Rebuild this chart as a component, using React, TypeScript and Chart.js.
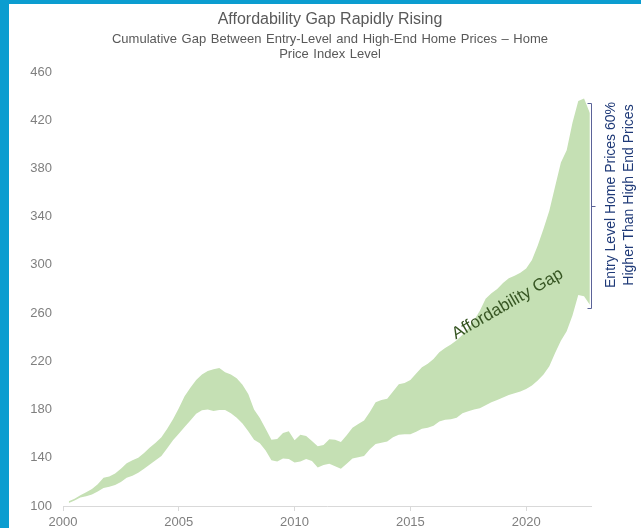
import React, { useEffect, useRef } from "react";
import { Chart, registerables } from "chart.js";

Chart.register(...registerables);

const quarters = [
  2000.25, 2000.5, 2000.75,
  2001, 2001.25, 2001.5, 2001.75,
  2002, 2002.25, 2002.5, 2002.75,
  2003, 2003.25, 2003.5, 2003.75,
  2004, 2004.25, 2004.5, 2004.75,
  2005, 2005.25, 2005.5, 2005.75,
  2006, 2006.25, 2006.5, 2006.75,
  2007, 2007.25, 2007.5, 2007.75,
  2008, 2008.25, 2008.5, 2008.75,
  2009, 2009.25, 2009.5, 2009.75,
  2010, 2010.25, 2010.5, 2010.75,
  2011, 2011.25, 2011.5, 2011.75,
  2012, 2012.25, 2012.5, 2012.75,
  2013, 2013.25, 2013.5, 2013.75,
  2014, 2014.25, 2014.5, 2014.75,
  2015, 2015.25, 2015.5, 2015.75,
  2016, 2016.25, 2016.5, 2016.75,
  2017, 2017.25, 2017.5, 2017.75,
  2018, 2018.25, 2018.5, 2018.75,
  2019, 2019.25, 2019.5, 2019.75,
  2020, 2020.25, 2020.5, 2020.75,
  2021, 2021.25, 2021.5, 2021.75,
  2022, 2022.25, 2022.5, 2022.75,
];

// Entry-level home price index (upper edge of the gap)
const entryLevel = [
  104, 106, 109,
  111.5, 114, 118, 123.5,
  124.5, 127, 131, 135.5,
  138, 140, 144, 148.5,
  152.5, 157, 164, 172,
  181, 191, 198, 204.5,
  209, 212, 213.5, 214.5,
  211, 209, 206, 200.5,
  193, 180, 173, 164,
  155, 155.5, 160.5, 162,
  154.5, 159, 158, 154,
  149.5, 150.7, 155.3, 155,
  153, 158.7, 165, 168,
  171, 178, 186, 188,
  189, 195, 201, 202,
  204.5, 210, 215, 218,
  222, 227.5, 231, 234,
  237.5, 242, 247, 254,
  262, 272, 276.5, 280,
  285, 289, 291, 293.5,
  297, 304, 316, 330,
  345, 365, 385, 395,
  418, 436, 438, 426,
];

// High-end home price index (lower edge of the gap)
const highEnd = [
  102.5, 104.5, 107,
  108, 109.5, 112, 115,
  116, 117.5, 120, 123.5,
  125, 127.5, 131, 134.5,
  138, 141.5, 148, 154.5,
  160, 165.5, 171, 176.5,
  179.5, 180, 178.8, 179.6,
  179.6, 177, 173.3, 168.5,
  162, 155, 152, 146,
  138, 137, 139.3, 139,
  136, 137, 139, 137.3,
  132, 134, 135, 133,
  131, 135, 139.5, 140.5,
  141.5, 147, 151.5, 152.5,
  153.5, 157, 159, 159.5,
  159.5, 161.5, 164, 165,
  166.5, 170, 171.5, 172,
  173.3, 177, 178.5, 180,
  181, 183.5, 186, 188,
  190, 192, 193.5, 195,
  197, 200, 204, 209,
  216, 227, 237, 245,
  258, 275, 274, 267,
];

const xTicks = [2000, 2005, 2010, 2015, 2020];
const yTicks = [100, 140, 180, 220, 260, 300, 340, 380, 420, 460];

const titleText = "Affordability Gap Rapidly Rising";
const subtitleLines = [
  "Cumulative Gap Between Entry-Level and High-End Home Prices \u2013 Home",
  "Price Index Level",
];
const gapLabel = "Affordability Gap";
const noteLines = ["Entry Level Home Prices 60%", "Higher Than High End Prices"];
const bracketRange = [434, 264.5];
const gapLabelPos = [2019.2, 267.5];

const FONT = "'Liberation Sans', Arial, sans-serif";

const decorPlugin = {
  id: "decor",
  beforeDraw(chart: any) {
    const { ctx, width, height } = chart;
    ctx.save();
    ctx.fillStyle = "#ffffff";
    ctx.fillRect(0, 0, width, height);
    ctx.fillStyle = "#0b9dd0";
    ctx.fillRect(0, 0, 9, height);
    ctx.fillRect(0, 0, width, 4);
    ctx.restore();
  },
  afterDraw(chart: any) {
    const { ctx } = chart;
    const xs = chart.scales.x;
    const ys = chart.scales.y;
    ctx.save();
    // titles
    ctx.textAlign = "center";
    ctx.textBaseline = "middle";
    ctx.fillStyle = "#595959";
    ctx.font = `16px ${FONT}`;
    ctx.fillText(titleText, 330, 20);
    ctx.font = `13px ${FONT}`;
    (ctx as any).wordSpacing = "1px";
    ctx.fillText(subtitleLines[0], 330, 39);
    ctx.fillText(subtitleLines[1], 330, 54);
    (ctx as any).wordSpacing = "0px";

    // rotated gap label
    ctx.save();
    ctx.translate(xs.getPixelForValue(gapLabelPos[0]), ys.getPixelForValue(gapLabelPos[1]));
    ctx.rotate((-30 * Math.PI) / 180);
    ctx.fillStyle = "#375623";
    ctx.font = `17px ${FONT}`;
    ctx.fillText(gapLabel, 0, 0);
    ctx.restore();

    // bracket
    const bx = chart.chartArea.right + 0.5;
    const yTop = Math.round(ys.getPixelForValue(bracketRange[0])) + 0.5;
    const yBot = Math.round(ys.getPixelForValue(bracketRange[1])) + 0.5;
    const yMid = Math.round((yTop + yBot) / 2) + 0.5;
    ctx.strokeStyle = "#5b6398";
    ctx.lineWidth = 1;
    ctx.beginPath();
    ctx.moveTo(bx - 4, yTop);
    ctx.lineTo(bx, yTop);
    ctx.lineTo(bx, yBot);
    ctx.lineTo(bx - 4, yBot);
    ctx.moveTo(bx, yMid);
    ctx.lineTo(bx + 4, yMid);
    ctx.stroke();

    // vertical note
    ctx.save();
    ctx.translate(611.5, 195);
    ctx.rotate(-Math.PI / 2);
    ctx.fillStyle = "#1f3a78";
    ctx.font = `14px ${FONT}`;
    ctx.fillText(noteLines[0], 0, 0);
    ctx.fillText(noteLines[1], 0, 17.5);
    ctx.restore();

    ctx.restore();
  },
};

export default function App() {
  const ref = useRef<HTMLCanvasElement | null>(null);

  useEffect(() => {
    if (!ref.current) return;
    const chart = new Chart(ref.current, {
      type: "line",
      data: {
        datasets: [
          {
            label: "Entry-Level",
            data: quarters.map((q, i) => ({ x: q, y: entryLevel[i] })),
            borderColor: "rgba(0,0,0,0)",
            borderWidth: 0,
            backgroundColor: "#c5e0b4",
            pointRadius: 0,
            fill: "+1",
            tension: 0,
          },
          {
            label: "High-End",
            data: quarters.map((q, i) => ({ x: q, y: highEnd[i] })),
            borderColor: "rgba(0,0,0,0)",
            borderWidth: 0,
            backgroundColor: "#c5e0b4",
            pointRadius: 0,
            fill: false,
            tension: 0,
          },
        ],
      },
      options: {
        animation: false,
        responsive: false,
        maintainAspectRatio: false,
        devicePixelRatio: 1,
        layout: { padding: { left: 0, top: 72, right: 50, bottom: 0 } },
        plugins: {
          legend: { display: false },
          title: { display: false },
          tooltip: { enabled: false },
        },
        scales: {
          x: {
            type: "linear",
            min: 2000,
            max: 2022.8,
            afterBuildTicks: (axis: any) => {
              axis.ticks = xTicks.map((v) => ({ value: v }));
            },
            afterFit: (axis: any) => {
              axis.height = 22;
            },
            ticks: {
              includeBounds: false,
              padding: 4,
              color: "#7f7f7f",
              font: { family: FONT, size: 13 },
              callback: (v: any) => String(v),
              maxRotation: 0,
            },
            grid: {
              display: true,
              drawOnChartArea: false,
              drawTicks: true,
              tickLength: 5,
              color: "#d9d9d9",
            },
            border: { display: true, color: "#d9d9d9", width: 1 },
          },
          y: {
            type: "linear",
            min: 100,
            max: 460,
            afterBuildTicks: (axis: any) => {
              axis.ticks = yTicks.map((v) => ({ value: v }));
            },
            afterFit: (axis: any) => {
              axis.width = 63;
            },
            ticks: {
              padding: 11,
              color: "#7f7f7f",
              font: { family: FONT, size: 13 },
            },
            grid: { display: false, drawTicks: false },
            border: { display: false },
          },
        },
      },
      plugins: [decorPlugin],
    });
    return () => chart.destroy();
  }, []);

  return (
    <div style={{ position: "fixed", left: 0, top: 0, width: 641, height: 528 }}>
      <canvas ref={ref} width={641} height={528} style={{ display: "block" }} />
    </div>
  );
}
